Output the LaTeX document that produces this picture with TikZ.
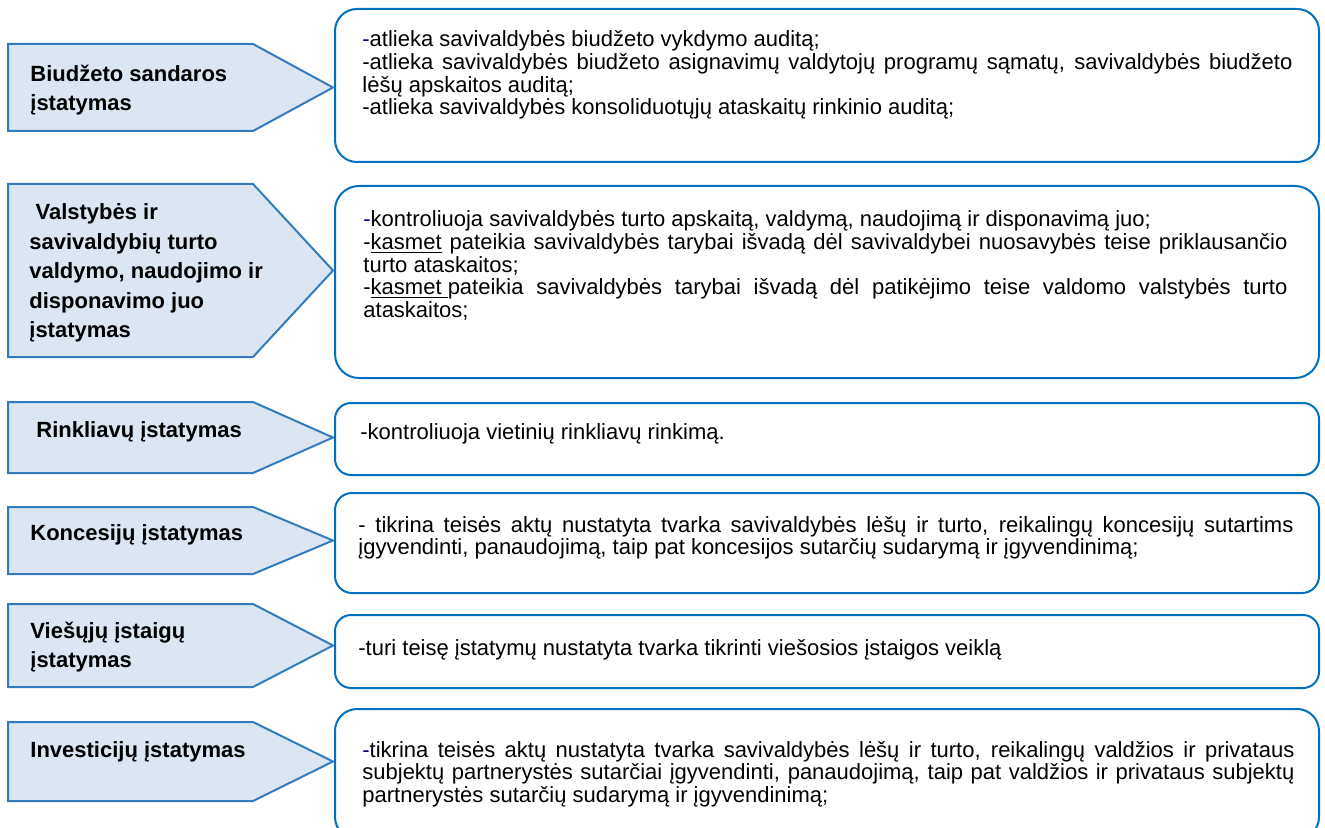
\documentclass[tikz,border=0pt]{standalone}
\usepackage{fontspec}
\setmainfont{Liberation Sans}
\usetikzlibrary{positioning}
\definecolor{lawedge}{RGB}{52, 123, 190}
\definecolor{lawfill}{RGB}{220, 230, 242}
\definecolor{dutyedge}{RGB}{0, 112, 192}
\definecolor{dashnavy}{RGB}{0, 0, 128}
\hyphenpenalty=10000
\exhyphenpenalty=10000

\begin{document}
\begin{tikzpicture}[x=0.5pt, y=-0.5pt]
    \tikzstyle{lawshape} = [draw=lawedge, fill=lawfill, line width=1pt]
    \tikzstyle{lawtext} = [anchor=west, inner sep=0pt, align=left, font=\fontsize{11}{14.75}\selectfont\bfseries]
    \tikzstyle{dutybox} = [draw=dutyedge, line width=1pt, anchor=north west, minimum width=492pt, inner sep=0pt]
    \tikzstyle{dutytext} = [anchor=base west, inner sep=0pt, text width=465pt, align=justify, font=\fontsize{11}{11.3}\selectfont]

    \useasboundingbox (0,0) rectangle (1325,828);
    \clip (0,0) rectangle (1325,828);

    % laws on the left
    \draw [lawshape] (8,44) -- (253,44) -- (333,87.5) -- (253,131) -- (8,131) -- cycle;
    \draw [lawshape] (8,184) -- (253,184) -- (333,270.5) -- (253,357) -- (8,357) -- cycle;
    \draw [lawshape] (8,402) -- (253,402) -- (333,437.5) -- (253,473) -- (8,473) -- cycle;
    \draw [lawshape] (8,507) -- (253,507) -- (333,540.5) -- (253,574) -- (8,574) -- cycle;
    \draw [lawshape] (8,604) -- (253,604) -- (333,645.5) -- (253,687) -- (8,687) -- cycle;
    \draw [lawshape] (8,722) -- (253,722) -- (333,761.5) -- (253,801) -- (8,801) -- cycle;

    \node [lawtext] (law1) at (30,90) {Biudžeto sandaros\\įstatymas};
    \node [lawtext] (law2) at (29,273) {\hspace*{0.28em}Valstybės ir\\savivaldybių turto\\valdymo, naudojimo ir\\disponavimo juo\\įstatymas};
    \node [lawtext] (law3) at (36,432) {Rinkliavų įstatymas};
    \node [lawtext] (law4) at (30,535) {Koncesijų įstatymas};
    \node [lawtext] (law5) at (30,647) {Viešųjų įstaigų\\įstatymas};
    \node [lawtext] (law6) at (30,752) {Investicijų įstatymas};

    % duties on the right
    \node [dutybox, minimum height=76.5pt, rounded corners=11pt] (duty1) at (334,8) {};
    \node [dutybox, minimum height=96pt, rounded corners=12pt] (duty2) at (334,185) {};
    \node [dutybox, minimum height=36pt, rounded corners=8pt] (duty3) at (334,402) {};
    \node [dutybox, minimum height=50pt, rounded corners=8.5pt] (duty4) at (334,492) {};
    \node [dutybox, minimum height=36.5pt, rounded corners=8pt] (duty5) at (334,614) {};
    \node [dutybox, minimum height=65pt, rounded corners=11pt] (duty6) at (334,708) {};

    \node [dutytext] (text1) at (362,47) {{\color{dashnavy}-}atlieka savivaldybės biudžeto vykdymo auditą;\par
      -atlieka savivaldybės biudžeto asignavimų valdytojų programų sąmatų, savivaldybės biudžeto lėšų apskaitos auditą;\par
      -atlieka savivaldybės konsoliduotųjų ataskaitų rinkinio auditą;};
    \node [dutytext, text width=462pt] (text2) at (363,227) {{\color{dashnavy}-}kontroliuoja savivaldybės turto apskaitą, valdymą, naudojimą ir disponavimą juo;\par
      -\underline{kasmet} pateikia savivaldybės tarybai išvadą dėl savivaldybei nuosavybės teise priklausančio turto ataskaitos;\par
      -\underline{kasmet\ }pateikia savivaldybės tarybai išvadą dėl patikėjimo teise valdomo valstybės turto ataskaitos;};
    \node [dutytext] (text3) at (360,439) {-kontroliuoja vietinių rinkliavų rinkimą.};
    \node [dutytext, text width=467.5pt] (text4) at (358,532) {- tikrina teisės aktų nustatyta tvarka savivaldybės lėšų ir turto, reikalingų koncesijų sutartims įgyvendinti, panaudojimą, taip pat koncesijos sutarčių sudarymą ir įgyvendinimą;};
    \node [dutytext] (text5) at (358,655) {-turi teisę įstatymų nustatyta tvarka tikrinti viešosios įstaigos veiklą};
    \node [dutytext, text width=466pt] (text6) at (362,757) {{\color{dashnavy}-}tikrina teisės aktų nustatyta tvarka savivaldybės lėšų ir turto, reikalingų valdžios ir privataus subjektų partnerystės sutarčiai įgyvendinti, panaudojimą, taip pat valdžios ir privataus subjektų partnerystės sutarčių sudarymą ir įgyvendinimą;};
\end{tikzpicture}
\end{document}
